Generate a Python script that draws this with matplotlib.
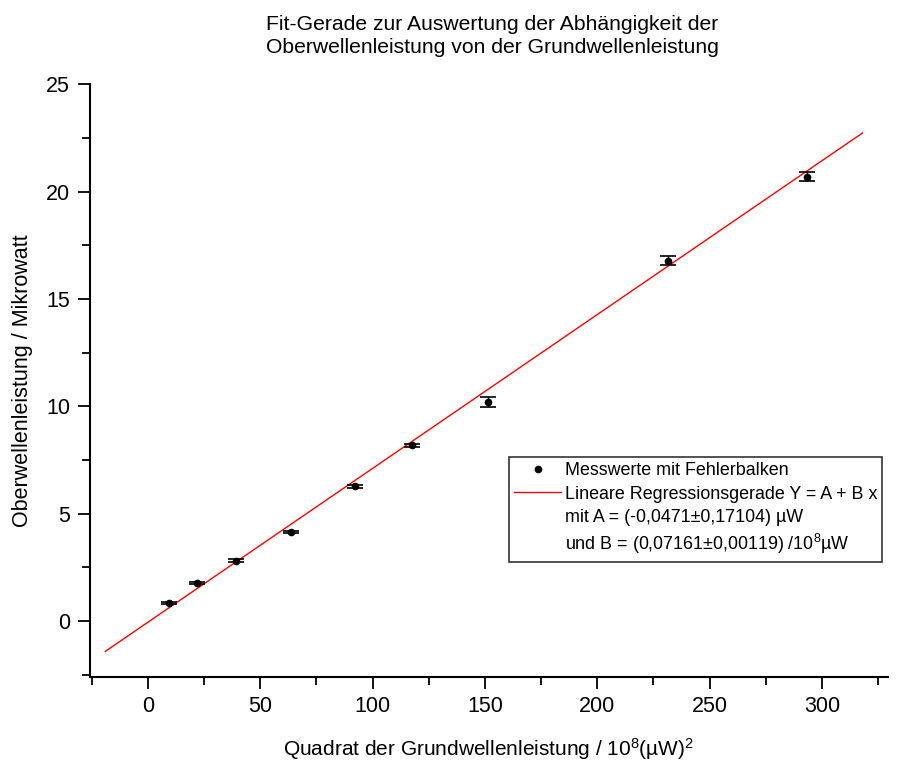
import numpy as np
import matplotlib.pyplot as plt
from matplotlib.lines import Line2D
from matplotlib.ticker import MultipleLocator

plt.rcParams['font.family'] = ['Liberation Sans', 'DejaVu Sans']
plt.rcParams['mathtext.fontset'] = 'custom'
plt.rcParams['mathtext.rm'] = 'Liberation Sans'
plt.rcParams['mathtext.it'] = 'Liberation Sans'
plt.rcParams['xtick.labelsize'] = 15.5
plt.rcParams['ytick.labelsize'] = 15.5

# Messwerte (x: 10^8 (uW)^2, y: uW)
x_werte = [9.3, 21.8, 39.2, 63.6, 92.1, 117.5, 151.3, 231.5, 293.3]
y_werte = [0.84, 1.77, 2.82, 4.16, 6.28, 8.18, 10.2, 16.78, 20.68]
y_fehler = [0.04, 0.05, 0.06, 0.06, 0.07, 0.08, 0.23, 0.21, 0.21]

# Fit-Parameter
A = -0.0471
B = 0.07161
fit_bereich = [-19, 318]

fig = plt.figure(figsize=(9.12, 7.63), dpi=100)
ax = fig.add_axes([0.0987, 0.1127, 0.875, 0.777])

# Regressionsgerade
x_fit = np.array(fit_bereich)
ax.plot(x_fit, A + B * x_fit, color="red", linewidth=1.0, zorder=2)

# Messwerte mit Fehlerbalken
ax.errorbar(x_werte, y_werte, yerr=y_fehler, fmt="o", color="black",
            markersize=4.5, capsize=6, elinewidth=1.0, capthick=1.2, zorder=3)

ax.set_xlim(-25.8, 329.4)
ax.set_ylim(-2.6, 25)
ax.xaxis.set_major_locator(MultipleLocator(50))
ax.xaxis.set_minor_locator(MultipleLocator(25))
ax.yaxis.set_major_locator(MultipleLocator(5))
ax.yaxis.set_minor_locator(MultipleLocator(2.5))

for side in ["top", "right"]:
    ax.spines[side].set_visible(False)
for side in ["left", "bottom"]:
    ax.spines[side].set_linewidth(1.5)

ax.tick_params(which="major", direction="out", length=8.5, width=1.3)
ax.tick_params(which="minor", direction="out", length=5.5, width=1.3)
ax.tick_params(axis="y", which="major", pad=6)
ax.tick_params(axis="x", which="major", pad=5)

ax.set_xlabel("Quadrat der Grundwellenleistung / 10$^8$(µW)$^2$",
              fontsize=15, labelpad=14)
ax.set_ylabel("Oberwellenleistung / Mikrowatt", fontsize=15.5, labelpad=9)
fig.text(0.54, 0.953, "Fit-Gerade zur Auswertung der Abhängigkeit der\n"
         "Oberwellenleistung von der Grundwellenleistung",
         ha="center", va="center", fontsize=15.2, linespacing=1.3)

handles = [
    Line2D([], [], marker="o", color="black", linestyle="none", markersize=4.5),
    Line2D([], [], color="red", linewidth=1.0),
    Line2D([], [], linestyle="none"),
    Line2D([], [], linestyle="none"),
]
labels = [
    "Messwerte mit Fehlerbalken",
    "Lineare Regressionsgerade Y = A + B x",
    "mit A = (-0,0471±0,17104) µW",
    "und B = (0,07161±0,00119) /10$^8$µW",
]
leg = ax.legend(handles, labels, loc="upper left", bbox_to_anchor=(0.525, 0.371),
                fontsize=12.9, frameon=True, fancybox=False, edgecolor="black",
                handlelength=2.6, handletextpad=0.2, borderpad=0.3,
                labelspacing=0.35, borderaxespad=0)
leg.get_frame().set_linewidth(1.2)

fig.savefig("out.png", dpi=100)
